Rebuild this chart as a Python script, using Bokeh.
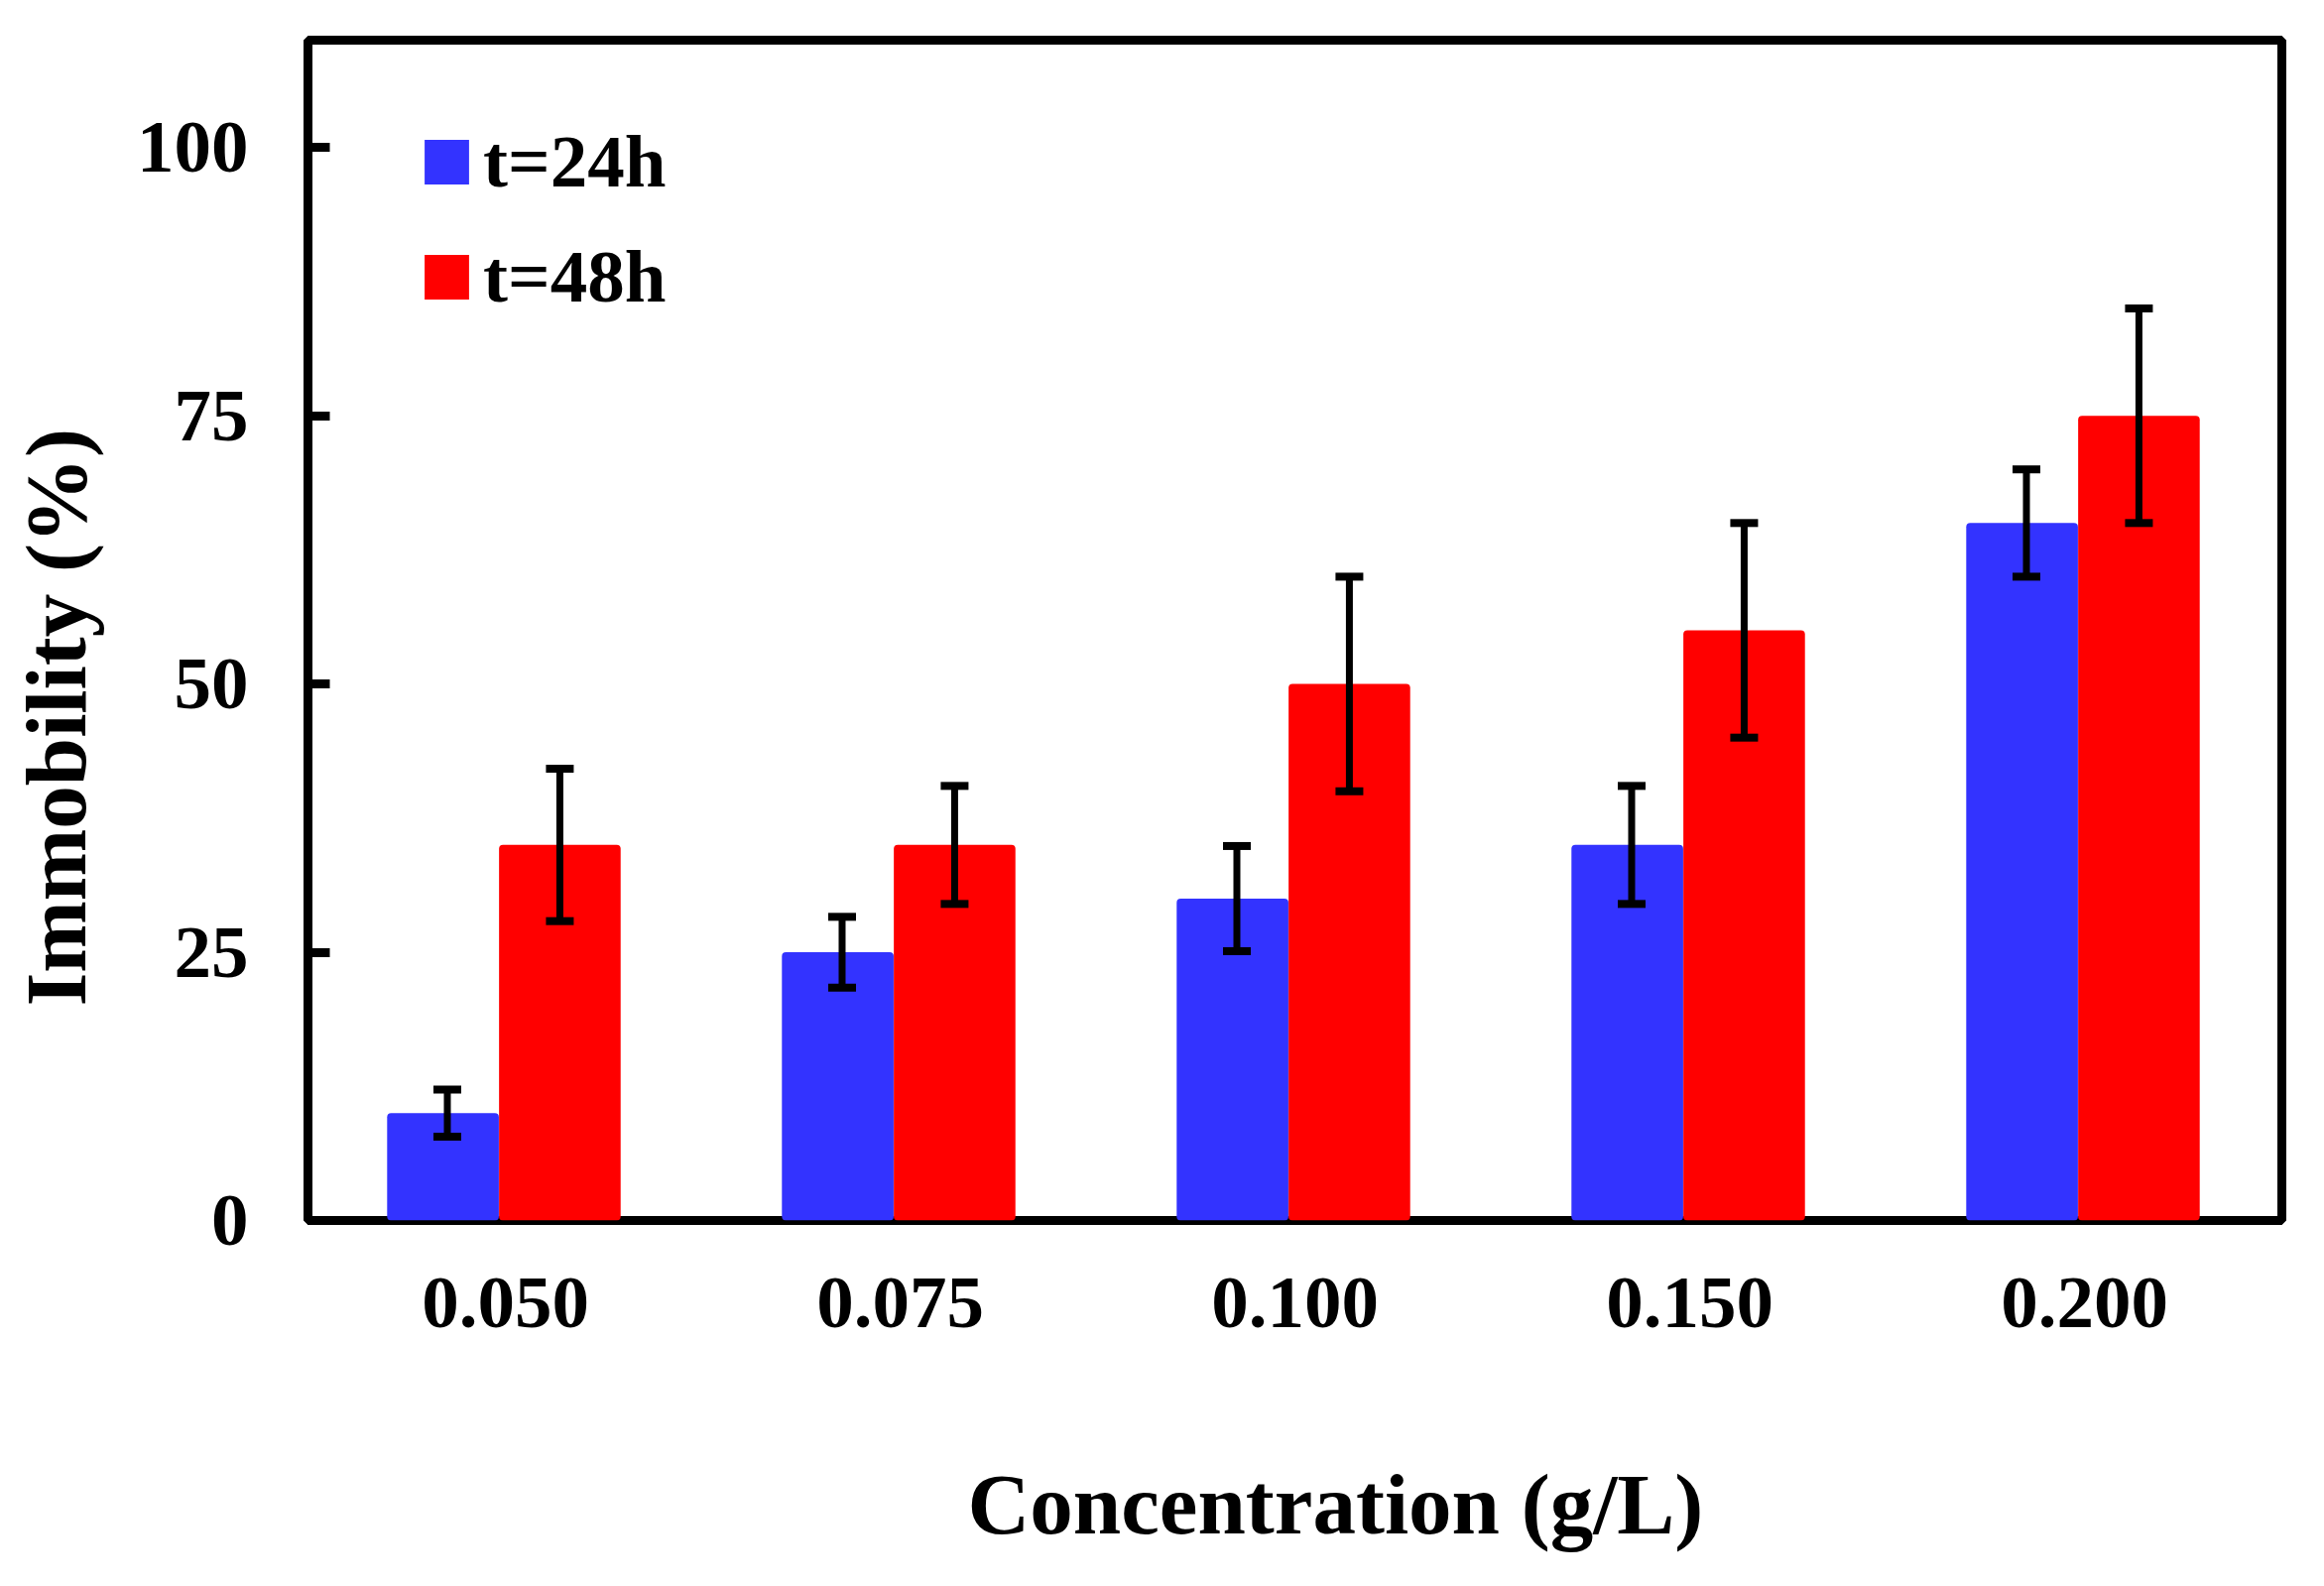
from math import pi

from bokeh.plotting import figure
from bokeh.models import (ColumnDataSource, FactorRange, Range1d, FixedTicker,
                          Whisker, TeeHead, Legend, LegendItem, Label)
from bokeh.transform import dodge
from bokeh.embed import file_html
from bokeh.resources import INLINE

# data
concs = ["0.050", "0.075", "0.100", "0.150", "0.200"]
imm_24h = [10, 25, 30, 35, 65]
err_24h = [2.2, 3.3, 4.9, 5.5, 5.0]
imm_48h = [35, 35, 50, 55, 75]
err_48h = [7.1, 5.5, 10, 10, 10]
y_ticks = [0, 25, 50, 75, 100]

FONT = "Liberation Serif"
BLUE = "#3333ff"
RED = "#ff0000"

src = ColumnDataSource(dict(
    conc=concs,
    t24=imm_24h,
    t48=imm_48h,
    lo24=[v - e for v, e in zip(imm_24h, err_24h)],
    up24=[v + e for v, e in zip(imm_24h, err_24h)],
    lo48=[v - e for v, e in zip(imm_48h, err_48h)],
    up48=[v + e for v, e in zip(imm_48h, err_48h)],
))

p = figure(
    x_range=FactorRange(factors=concs, range_padding=0),
    y_range=Range1d(0, 110),
    width=2327, height=1583,
    min_border_left=310, min_border_right=27,
    min_border_top=40, min_border_bottom=353,
    output_backend="svg", toolbar_location=None,
)

# bars
b24 = p.vbar(x=dodge("conc", -0.158, range=p.x_range), top="t24", width=0.283,
             source=src, fill_color=BLUE, line_color=None, border_radius=4)
b48 = p.vbar(x=dodge("conc", 0.138, range=p.x_range), top="t48", width=0.308,
             source=src, fill_color=RED, line_color=None, border_radius=4)

# error bars, drawn over the bars
for off, lo, up in [(-0.147, "lo24", "up24"), (0.138, "lo48", "up48")]:
    w = Whisker(base=dodge("conc", off, range=p.x_range), lower=lo, upper=up,
                source=src, line_color="black", line_width=7, level="overlay",
                upper_head=TeeHead(size=28, line_width=8, line_color="black"),
                lower_head=TeeHead(size=28, line_width=8, line_color="black"))
    p.add_layout(w)

# frame and axes
p.outline_line_color = "black"
p.outline_line_width = 9
p.xgrid.grid_line_color = None
p.ygrid.grid_line_color = None

p.xaxis.axis_line_color = None
p.xaxis.major_tick_in = 0
p.xaxis.major_tick_out = 0
p.xaxis.major_label_standoff = 58
p.xaxis.major_label_text_font = FONT
p.xaxis.major_label_text_font_size = "75px"
p.xaxis.major_label_text_font_style = "bold"
p.xaxis.major_label_text_color = "black"

p.yaxis.ticker = FixedTicker(ticks=y_ticks)
p.yaxis.axis_line_color = None
p.yaxis.minor_tick_line_color = None
p.yaxis.major_tick_in = 22
p.yaxis.major_tick_out = 0
p.yaxis.major_tick_line_width = 9
p.yaxis.major_tick_line_color = "black"
p.yaxis.major_label_standoff = 60
p.yaxis.major_label_text_font = FONT
p.yaxis.major_label_text_font_size = "75px"
p.yaxis.major_label_text_font_style = "bold"
p.yaxis.major_label_text_color = "black"

# axis titles, kept off-centre as in the original (side panels, so not clipped)
p.add_layout(Label(x=665, y=-79, x_units="screen", y_units="screen",
                   text="Concentration (g/L)", text_font=FONT,
                   text_font_size="87px", text_font_style="bold",
                   text_color="black",
                   text_align="left", text_baseline="alphabetic"), "below")
p.add_layout(Label(x=19, y=216, x_units="screen", y_units="screen",
                   angle=pi / 2, text="Immobility (%)", text_font=FONT,
                   text_font_size="87px", text_font_style="bold",
                   text_color="black",
                   text_align="left", text_baseline="alphabetic"), "left")

# legend
legend = Legend(
    items=[LegendItem(label="t=24h", renderers=[b24]),
           LegendItem(label="t=48h", renderers=[b48])],
    location=(112, 908), orientation="vertical",
    glyph_width=56, glyph_height=56, label_standoff=9, spacing=30,
    padding=0, margin=0, border_line_color=None, background_fill_alpha=0,
    label_text_font=FONT, label_text_font_size="75px",
    label_text_font_style="bold", label_text_color="black",
)
p.add_layout(legend)

open("out.html", "w").write(file_html(p, INLINE))
